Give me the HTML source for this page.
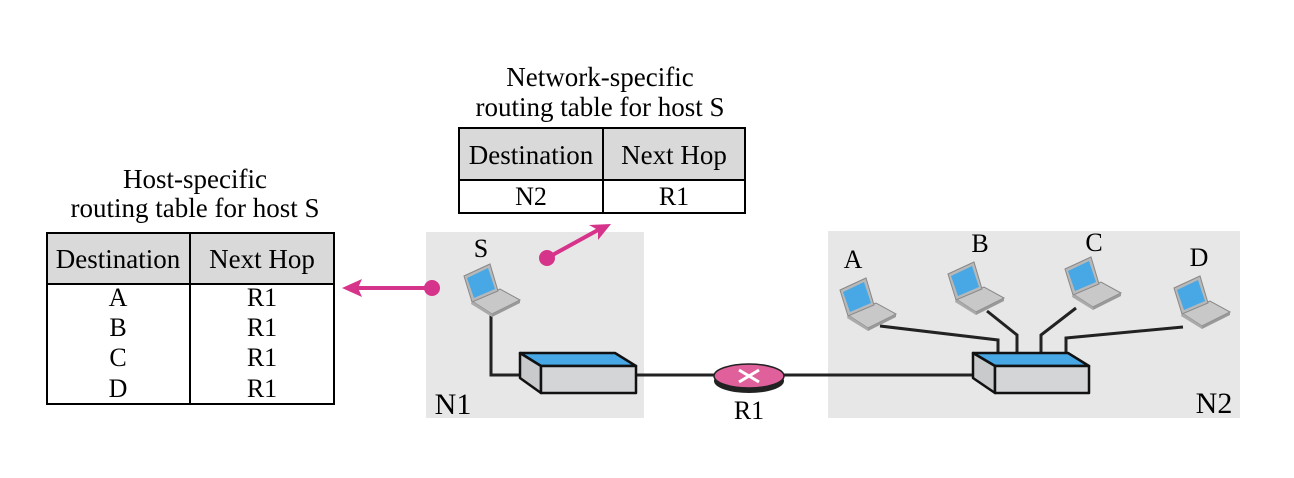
<!DOCTYPE html>
<html><head><meta charset="utf-8"><style>
html,body{margin:0;padding:0;background:#fff;}
svg{display:block;font-family:"Liberation Serif",serif;}
</style></head><body>
<svg width="1294" height="478" viewBox="0 0 1294 478">
<defs>
<g id="lap">
<polygon points="10,37 38,25 58,36 30,50" fill="#c8c8c8" stroke="#888" stroke-width="1"/>
<polygon points="30,50 58,36 58,39 30,53" fill="#999"/>
<polygon points="10,37 30,50 30,53 9,40" fill="#aaa"/>
<polygon points="2,12 28,0 36,27 10,38" fill="#b8b8b8" stroke="#888" stroke-width="1"/>
<polygon points="5,14 26,4 33,25 12,34" fill="#47a8e5"/>
</g>
</defs>
<rect x="426" y="232" width="218" height="186" fill="#e7e7e7"/>
<rect x="828" y="231" width="412" height="187" fill="#e7e7e7"/>

<!-- top table -->
<text x="600" y="86" font-size="27" text-anchor="middle">Network-specific</text>
<text x="600" y="116" font-size="27" text-anchor="middle">routing table for host S</text>
<rect x="459" y="128" width="286" height="52" fill="#d9d9d9"/>
<rect x="459" y="128" width="286" height="85" fill="none" stroke="#000" stroke-width="2"/>
<line x1="459" y1="180" x2="745" y2="180" stroke="#000" stroke-width="2"/>
<line x1="603" y1="128" x2="603" y2="213" stroke="#000" stroke-width="2"/>
<text x="531" y="164" font-size="27" text-anchor="middle">Destination</text>
<text x="674" y="164" font-size="27" text-anchor="middle">Next Hop</text>
<text x="531" y="205" font-size="26" text-anchor="middle">N2</text>
<text x="674" y="205" font-size="26" text-anchor="middle">R1</text>

<!-- left table -->
<text x="195" y="188" font-size="27" text-anchor="middle">Host-specific</text>
<text x="195" y="217" font-size="27" text-anchor="middle">routing table for host S</text>
<rect x="47" y="233" width="287" height="51" fill="#d9d9d9"/>
<rect x="47" y="233" width="287" height="171" fill="none" stroke="#000" stroke-width="2"/>
<line x1="47" y1="284" x2="334" y2="284" stroke="#000" stroke-width="2"/>
<line x1="190" y1="233" x2="190" y2="404" stroke="#000" stroke-width="2"/>
<text x="118" y="268" font-size="27" text-anchor="middle">Destination</text>
<text x="262" y="268" font-size="27" text-anchor="middle">Next Hop</text>
<g font-size="26" text-anchor="middle">
<text x="118" y="306">A</text><text x="262" y="306">R1</text>
<text x="118" y="336">B</text><text x="262" y="336">R1</text>
<text x="118" y="366">C</text><text x="262" y="366">R1</text>
<text x="118" y="397">D</text><text x="262" y="397">R1</text>
</g>

<!-- pink arrows -->
<line x1="432" y1="288" x2="358" y2="288" stroke="#d6338a" stroke-width="4"/>
<polygon points="342,288 362,279 358,288 362,297" fill="#d6338a"/>
<circle cx="432" cy="288" r="8" fill="#d6338a"/>
<line x1="547" y1="258" x2="598" y2="230" stroke="#d6338a" stroke-width="4"/>
<polygon points="611,224 598,240 598,230 589,225" fill="#d6338a"/>
<circle cx="547" cy="258" r="8" fill="#d6338a"/>

<!-- wires -->
<g stroke="#222" stroke-width="3" fill="none">
<polyline points="491,312 491,375 520,375"/>
<line x1="636" y1="375" x2="716" y2="375"/>
<line x1="782" y1="375" x2="975" y2="375"/>
<polyline points="880,326 998,340 998,353"/>
<polyline points="987,311 1017,335 1017,353"/>
<polyline points="1076,308 1041,335 1041,353"/>
<polyline points="1183,327 1066,338 1066,353"/>
</g>

<!-- laptops -->
<use href="#lap" x="462" y="264"/>
<use href="#lap" x="838" y="278"/>
<use href="#lap" x="946" y="262"/>
<use href="#lap" x="1063" y="257"/>
<use href="#lap" x="1172" y="276"/>

<!-- switches -->
<g stroke="#111" stroke-width="2.5" stroke-linejoin="round">
<polygon points="520,353 615,353 636,366 541,366" fill="#47a8e5"/>
<polygon points="520,353 541,366 541,393 520,378" fill="#c9cacc"/>
<rect x="541" y="366" width="95" height="27" fill="#d4d5d7"/>
<polygon points="973,353 1068,353 1089,366 995,366" fill="#47a8e5"/>
<polygon points="973,353 995,366 995,393 973,378" fill="#c9cacc"/>
<rect x="995" y="366" width="94" height="27" fill="#d4d5d7"/>
</g>

<!-- router -->
<ellipse cx="749" cy="381" rx="35" ry="12" fill="#222"/>
<ellipse cx="749" cy="376" rx="35" ry="12" fill="#e0609b" stroke="#222" stroke-width="1.5"/>
<g stroke="#fff" stroke-width="3"><line x1="739" y1="370" x2="759" y2="382"/><line x1="759" y1="370" x2="739" y2="382"/></g>

<!-- labels -->
<g font-size="26" text-anchor="middle">
<text x="481" y="257">S</text>
<text x="853" y="268">A</text>
<text x="980" y="252">B</text>
<text x="1094" y="251">C</text>
<text x="1199" y="266">D</text>
<text x="749" y="419">R1</text>
</g>
<text x="453" y="414" font-size="30" text-anchor="middle">N1</text>
<text x="1214" y="413" font-size="30" text-anchor="middle">N2</text>
</svg>
</body></html>
